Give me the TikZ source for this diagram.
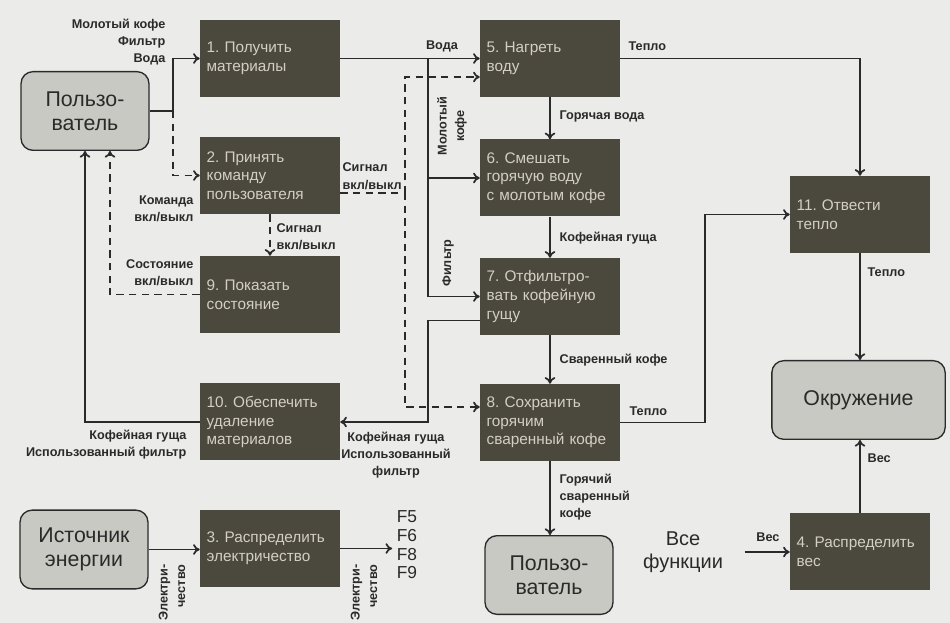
\documentclass[tikz,border=0pt]{standalone}
\usepackage{fontspec}
\setmainfont{Liberation Sans}
\usetikzlibrary{arrows.meta,calc}
\definecolor{paper}{HTML}{EBEBE9}
\definecolor{boxdark}{HTML}{4B483E}
\definecolor{boxtext}{HTML}{D4CFC5}
\definecolor{boxlight}{HTML}{C9C9C3}
\definecolor{ink}{HTML}{2A2A2A}
\frenchspacing

\begin{document}
\begin{tikzpicture}[x=0.75pt, y=-0.75pt, >={To[length=5pt,width=8pt]},
  every node/.style={font=\fontsize{11.5}{14}\selectfont},
  func/.style={fill=boxdark, text=boxtext, text width=95pt, inner xsep=5pt, align=left, minimum height=57.75pt},
  ext/.style={draw=ink, line width=1pt, fill=boxlight, rounded corners=9pt, align=center, text=ink,
    font=\fontsize{16}{18}\selectfont, minimum width=96pt, minimum height=59pt},
  lbl/.style={font=\fontsize{9.5}{13}\selectfont\bfseries, text=ink, inner sep=1pt},
  flow/.style={draw=ink, line width=1.3pt},
  sig/.style={flow, dash pattern=on 5.5pt off 4pt}]

\useasboundingbox (0,0) rectangle (950,623);
\fill[paper] (0,0) rectangle (950,623);

% functions
\node[func] (f1) at (270,58.5) {1. Получить\\материалы};
\node[func] (f2) at (270,175.5) {2. Принять\\команду\\пользователя};
\node[func] (f9) at (270,294.5) {9. Показать\\состояние};
\node[func] (f10) at (270,422) {10. Обеспечить\\удаление\\материалов};
\node[func] (f3) at (270,548.5) {3. Распределить\\электричество};
\node[func] (f5) at (550,58.5) {5. Нагреть\\воду};
\node[func] (f6) at (550,178) {6. Смешать\\горячую воду\\с молотым кофе};
\node[func] (f7) at (550,296.5) {7. Отфильтро-\\вать кофейную\\гущу};
\node[func] (f8) at (550,422.5) {8. Сохранить\\горячим\\сваренный кофе};
\node[func] (f11) at (860,214.5) {11. Отвести\\тепло};
\node[func] (f4) at (860,551.5) {4. Распределить\\вес};

% outside
\node[ext] (user) at (85,111) {Пользо-\\ватель};
\node[ext] (energy) at (84,549.5) {Источник\\энергии};
\node[ext] (user2) at (549,575) {Пользо-\\ватель};
\node[ext, minimum width=130pt] (env) at (858.5,400) {Окружение};
\node[font=\fontsize{15}{17}\selectfont, align=center, inner xsep=16pt, text=ink] (all) at (683,552) {Все\\функции};
\node[font=\fontsize{13}{14}\selectfont, align=left, text=ink] (fs) at (407,545) {F5\\F6\\F8\\F9};

% flows
\coordinate (j1) at (173,111);
\coordinate (j2) at (428,58.5);
\coordinate (j4) at (405,193);
\draw[flow,->] (user.east) -- (j1) |- (f1.west);
\draw[sig,->] (j1) |- (f2.west);
\draw[sig,->] (f9.west) -| ($(user.south)+(25,0)$);
\draw[flow,->] (f10.west) -| (user.south);
\draw[flow,->] (f1.east) -- (f5.west);
\draw[flow,->] (j2) |- (f6.west);
\draw[flow,->] (j2) |- (f7.west);
\draw[flow,->] ($(f7.west)+(0,24)$) -- ++(-52,0) |- (f10.east);
\draw[sig] ($(f2.east)+(0,17.5)$) -- (j4);
\draw[sig,->] (j4) |- ($(f5.west)+(0,18.5)$);
\draw[sig,->] (j4) |- ($(f8.west)+(0,-15.5)$);
\draw[sig,->] (f2.south) -- (f9.north);
\draw[flow,->] (f5.south) -- (f6.north);
\draw[flow,->] (f6.south) -- (f7.north);
\draw[flow,->] (f7.south) -- (f8.north);
\draw[flow,->] (f8.south) -- (f8.south |- user2.north);
\draw[flow,->] (f5.east) -| (f11.north);
\draw[flow,->] (f8.east) -- ++(85,0) |- (f11.west);
\draw[flow,->] (f11.south) -- (f11.south |- env.north);
\draw[flow,->] (f4.north) -- (f4.north |- env.south);
\draw[flow,->] (all.east) -- (all.east -| f4.west);
\draw[flow,->] (energy.east) -- (energy.east -| f3.west);
\draw[flow,->] (f3.east) -- (f3.east -| fs.west);

% labels
\node[lbl, anchor=east, align=right] (lmat) at (167,42) {Молотый кофе\\Фильтр\\Вода};
\node[lbl, anchor=east, align=right] (lcmd) at (195,209) {Команда\\вкл/выкл};
\node[lbl, anchor=east, align=right] (lstate) at (195,273) {Состояние\\вкл/выкл};
\node[lbl, anchor=north east, align=right] (lwaste) at (188,428) {Кофейная гуща\\Использованный фильтр};
\node[lbl, anchor=south] (lwater) at (442,54) {Вода};
\node[lbl, rotate=90, align=center] (lgrind) at (452,126) {Молотый\\кофе};
\node[lbl, rotate=90] (lfilter) at (448,263) {Фильтр};
\node[lbl, anchor=south west, align=left] (lsig1) at (341,191) {Сигнал\\вкл/выкл};
\node[lbl, anchor=west, align=left] (lsig2) at (275,237) {Сигнал\\вкл/выкл};
\node[lbl, anchor=west] (lhot) at (558,116) {Горячая вода};
\node[lbl, anchor=west] (lgr) at (558,238) {Кофейная гуща};
\node[lbl, anchor=west] (lbrew) at (558,360) {Сваренный кофе};
\node[lbl, anchor=west, align=left] (lcup) at (558,497) {Горячий\\сваренный\\кофе};
\node[lbl, align=center] (lwaste2) at (396,455) {Кофейная гуща\\Использованный\\фильтр};
\node[lbl, anchor=south west] (lheat1) at (627,52) {Тепло};
\node[lbl, anchor=south west] (lheat2) at (628,417) {Тепло};
\node[lbl, anchor=west] (lheat3) at (866,272) {Тепло};
\node[lbl, anchor=west] (lw1) at (866,458) {Вес};
\node[lbl] (lw2) at (768,537) {Вес};
\node[lbl, rotate=90, anchor=east, align=right] (lel1) at (172,563) {Электри-\\чество};
\node[lbl, rotate=90, anchor=east, align=right] (lel2) at (364,563) {Электри-\\чество};

\end{tikzpicture}
\end{document}
